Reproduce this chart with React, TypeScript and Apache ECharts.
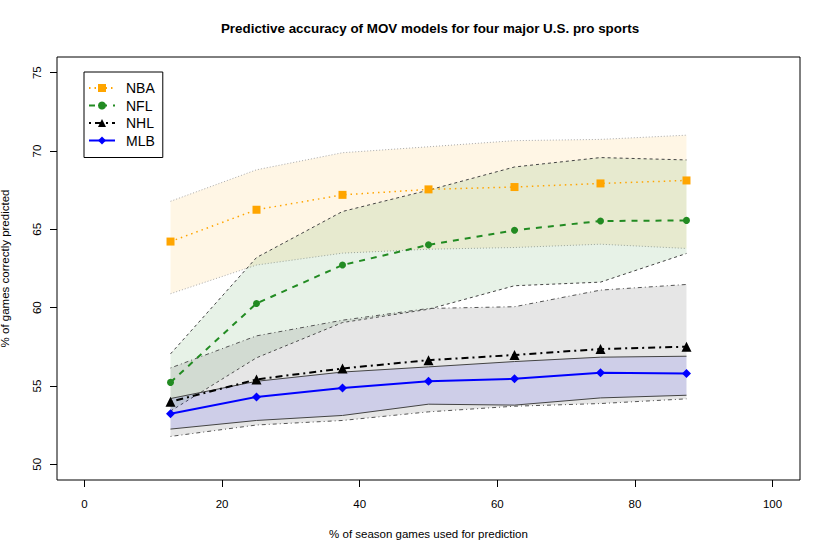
import React, { useEffect, useRef } from "react";
import * as echarts from "echarts";

const xs = [12.5, 25, 37.5, 50, 62.5, 75, 87.5];

const nbaMean = [64.22, 66.25, 67.2, 67.55, 67.7, 67.93, 68.12];
const nflMean = [55.23, 60.27, 62.72, 64.01, 64.94, 65.53, 65.57];
const nhlMean = [53.99, 55.42, 56.12, 56.65, 56.98, 57.36, 57.51];
const mlbMean = [53.23, 54.3, 54.87, 55.3, 55.46, 55.84, 55.8];

const nbaLower = [60.89, 62.72, 63.48, 63.73, 63.84, 64.05, 63.78];
const nbaUpper = [66.79, 68.8, 69.89, 70.27, 70.66, 70.74, 71.01];
const nflLower = [53.4, 56.8, 59.05, 59.9, 61.4, 61.63, 63.46];
const nflUpper = [57.05, 63.2, 66.14, 67.5, 68.98, 69.58, 69.43];
const nhlLower = [51.78, 52.51, 52.8, 53.35, 53.71, 53.88, 54.18];
const nhlUpper = [56.15, 58.2, 59.2, 59.95, 60.06, 61.12, 61.48];
const mlbLower = [52.25, 52.8, 53.12, 53.84, 53.78, 54.24, 54.41];
const mlbUpper = [54.2, 55.3, 55.89, 56.22, 56.56, 56.84, 56.9];

const xTicks = [0, 20, 40, 60, 80, 100];
const yTicks = [50, 55, 60, 65, 70, 75];

const FONT = "'Liberation Sans', Arial, Helvetica, sans-serif";

const pairs = (vals: number[]) => xs.map((x, i) => [x, vals[i]]);

function band(
  key: string,
  lo: number[],
  up: number[],
  fill: string,
  border: string,
  dash: number[] | null,
  z: number
) {
  return {
    name: key + " band",
    type: "custom",
    silent: true,
    z,
    xAxisIndex: 0,
    yAxisIndex: 0,
    data: xs.map((x, i) => [x, lo[i], up[i]]),
    encode: { x: 0, y: [1, 2] },
    renderItem: (params: any, api: any) => {
      if (params.dataIndex !== 0) return null;
      const lowPts = xs.map((x, i) => api.coord([x, lo[i]]));
      const upPts = xs.map((x, i) => api.coord([x, up[i]]));
      const poly = upPts.concat(lowPts.slice().reverse());
      const lineStyle: any = {
        stroke: border,
        lineWidth: 1,
        fill: null,
      };
      if (dash) lineStyle.lineDash = dash;
      return {
        type: "group",
        children: [
          { type: "polygon", shape: { points: poly }, style: { fill, stroke: null } },
          { type: "polyline", shape: { points: upPts }, style: { ...lineStyle } },
          { type: "polyline", shape: { points: lowPts }, style: { ...lineStyle } },
        ],
      };
    },
  };
}

export default function App() {
  const ref = useRef<HTMLDivElement>(null);
  useEffect(() => {
    document.body.style.margin = "0";
    const chart = echarts.init(ref.current!, null, { renderer: "svg" });
    const option: any = {
      animation: false,
      textStyle: { fontFamily: FONT },
      title: {
        text: "Predictive accuracy of MOV models for four major U.S. pro sports",
        left: 425,
        textAlign: "center",
        top: 17,
        textStyle: { fontSize: 13.4, fontWeight: "bold", color: "#000", fontFamily: FONT },
      },
      grid: [
        {
          left: 57,
          right: 30,
          top: 57,
          bottom: 74,
          show: true,
          borderColor: "#000",
          borderWidth: 1,
          backgroundColor: "transparent",
          outerBoundsMode: "none",
        },
        {
          left: 57,
          width: 1,
          top: 57,
          bottom: 74,
          show: false,
          outerBoundsMode: "none",
        },
      ],
      legend: {
        orient: "vertical",
        left: 84,
        top: 72,
        data: ["NBA", "NFL", "NHL", "MLB"],
        borderColor: "#000",
        borderWidth: 1,
        borderRadius: 0,
        padding: [9, 8, 10, 4],
        itemWidth: 26,
        itemHeight: 10,
        itemGap: 3.5,
        textStyle: { fontSize: 14, color: "#000", fontFamily: FONT, padding: [0, 0, 0, 6] },
        selectedMode: false,
      },
      xAxis: [
        {
          type: "value",
          gridIndex: 0,
          min: -4,
          max: 104,
          position: "bottom",
          name: "% of season games used for prediction",
          nameLocation: "middle",
          nameGap: 48,
          nameTextStyle: { fontSize: 11.5, color: "#000", fontFamily: FONT },
          axisLine: { show: false, onZero: false },
          splitLine: { show: false },
          axisTick: { show: true, inside: false, length: 7, customValues: xTicks, lineStyle: { color: "#000" } },
          axisLabel: { customValues: xTicks, fontSize: 11.5, color: "#000", margin: 18, fontFamily: FONT },
        },
        {
          type: "value",
          gridIndex: 1,
          min: 1,
          max: 2,
          show: false,
        },
      ],
      yAxis: [
        {
          type: "value",
          gridIndex: 0,
          min: 49,
          max: 76,
          axisLine: { show: false, onZero: false },
          splitLine: { show: false },
          axisTick: { show: false },
          axisLabel: { show: false },
        },
        {
          type: "value",
          gridIndex: 1,
          min: 49,
          max: 76,
          position: "left",
          name: "% of games correctly predicted",
          nameLocation: "middle",
          nameGap: 46,
          nameTextStyle: { fontSize: 11.5, color: "#000", fontFamily: FONT },
          axisLine: { show: false, onZero: false },
          splitLine: { show: false },
          axisTick: { show: true, inside: false, length: 7, customValues: yTicks, lineStyle: { color: "#000" } },
          axisLabel: { customValues: yTicks, fontSize: 11.5, color: "#000", rotate: 90, margin: 14, fontFamily: FONT },
        },
      ],
      series: [
        band("nba", nbaLower, nbaUpper, "rgba(255,165,0,0.1)", "#aaaaaa", [1, 2], 1),
        band("nfl", nflLower, nflUpper, "rgba(34,139,34,0.11)", "#444444", [3, 3], 2),
        band("nhl", nhlLower, nhlUpper, "rgba(128,128,128,0.2)", "#555555", [1, 3, 4, 3], 3),
        band("mlb", mlbLower, mlbUpper, "rgba(0,0,255,0.1)", "#444444", null, 4),
        {
          name: "NBA",
          type: "line",
          xAxisIndex: 0,
          yAxisIndex: 0,
          data: pairs(nbaMean),
          symbol: "rect",
          symbolSize: 8,
          itemStyle: { color: "#FFA500" },
          lineStyle: { color: "#FFA500", width: 1.5, type: [1.5, 4] },
          z: 5,
        },
        {
          name: "NFL",
          type: "line",
          xAxisIndex: 0,
          yAxisIndex: 0,
          data: pairs(nflMean),
          symbol: "circle",
          symbolSize: 7,
          itemStyle: { color: "#228B22" },
          lineStyle: { color: "#228B22", width: 2, type: [6, 6] },
          z: 5,
        },
        {
          name: "NHL",
          type: "line",
          xAxisIndex: 0,
          yAxisIndex: 0,
          data: pairs(nhlMean),
          symbol: "triangle",
          symbolSize: 10,
          itemStyle: { color: "#000" },
          lineStyle: { color: "#000", width: 2, type: [2, 4, 7, 4] },
          z: 5,
        },
        {
          name: "MLB",
          type: "line",
          xAxisIndex: 0,
          yAxisIndex: 0,
          data: pairs(mlbMean),
          symbol: "diamond",
          symbolSize: 9,
          itemStyle: { color: "#0000FF" },
          lineStyle: { color: "#0000FF", width: 2, type: "solid" },
          z: 5,
        },
      ],
    };
    chart.setOption(option);
    return () => chart.dispose();
  }, []);
  return (
    <div
      ref={ref}
      style={{ position: "fixed", left: 0, top: 0, width: 830, height: 554, background: "#fff" }}
    />
  );
}
